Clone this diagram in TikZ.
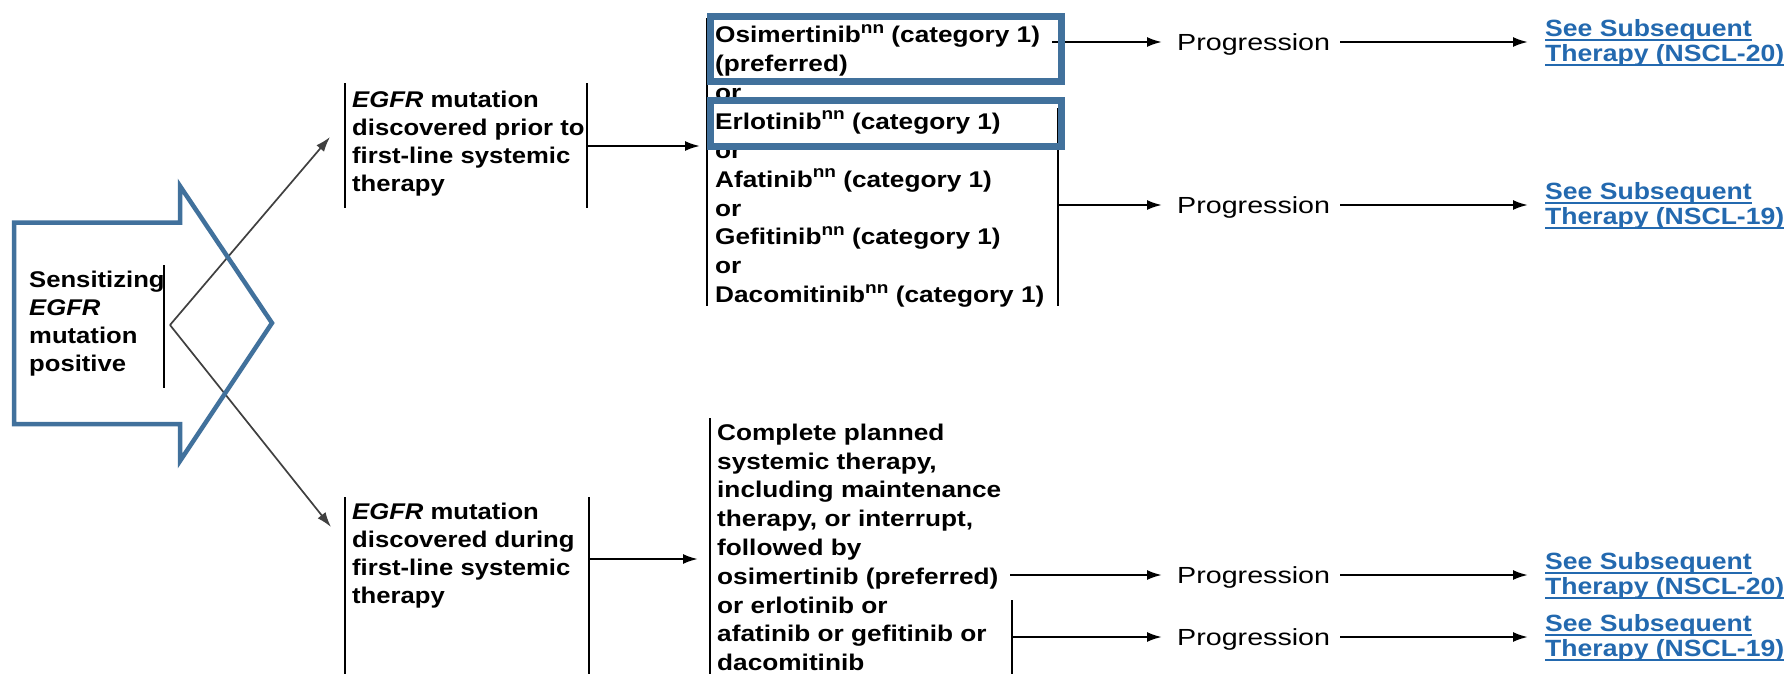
\documentclass[tikz,border=0pt]{standalone}
\usepackage{fontspec}
\usetikzlibrary{arrows.meta}
\newfontfamily\mf[FakeStretch=1.13]{Liberation Sans}
\newfontfamily\mg[FakeStretch=1.155]{Liberation Sans}
\newfontfamily\pf[FakeStretch=1.23]{Liberation Sans}
\definecolor{ppblue}{HTML}{41719C}
\definecolor{lnkblue}{RGB}{35,105,175}
\newcommand\tl{\rule{0pt}{18pt}}
\newcommand\sups[1]{\raisebox{0.42em}{\fontsize{16.5}{16.5}\selectfont #1}}
\newcommand\undl[1]{\setbox0=\hbox{#1}\rlap{\copy0}\rule[-5pt]{\wd0}{2pt}}
\begin{document}
\begin{tikzpicture}[x=1pt,y=-1pt,
  txt/.style={font=\mf\bfseries\fontsize{22.7}{28.9}\selectfont, align=left, inner sep=0pt, anchor=north west},
  prog/.style={font=\pf\fontsize{23.3}{28}\selectfont, inner sep=0pt, text height=16.7pt, text depth=0pt, anchor=west},
  lnk/.style={font=\mf\bfseries\fontsize{23.5}{25}\selectfont, text=lnkblue, align=left, inner sep=0pt, anchor=west},
  arr/.style={-{Latex[length=15pt,width=10pt]}, line width=2.2pt},
  barline/.style={line width=2.4pt},
  diag/.style={-{Latex[length=15pt,width=10pt]}, line width=1.7pt, draw=black!75},
  hl/.style={draw=ppblue, line width=7pt}]
\fill[white] (0,0) rectangle (1788,673);
\useasboundingbox (0,0) rectangle (1788,673);

% diagonal connectors
\coordinate (apex) at (170,325);
\coordinate (t1) at (330,137);
\coordinate (t2) at (331,527);
\draw[diag] (apex) -- (t1);
\draw[diag] (apex) -- (t2);

% left text
\node[txt, font=\mf\bfseries\fontsize{22.7}{28}\selectfont] (s) at (29,269) {\tl Sensitizing\\\textit{EGFR}\\mutation\\positive};
\draw[barline] (164,265) -- (164,388);

% top EGFR box
\node[txt, font=\mf\bfseries\fontsize{22.7}{28}\selectfont] (e1) at (352,89) {\tl\textit{EGFR} mutation\\discovered prior to\\first-line systemic\\therapy};
\draw[barline] (345,83) -- (345,208);
\draw[barline] (587,83) -- (587,208);
\coordinate (e1o) at (587,146);
\coordinate (d1i) at (700,146);
\draw[arr] (e1o) -- (d1i);

% top drug box
\node[txt, font=\mg\bfseries\fontsize{22.7}{28.9}\selectfont] (d1) at (715,24) {\tl Osimertinib\sups{nn} (category 1)\\(preferred)\\or\\Erlotinib\sups{nn} (category 1)\\or\\Afatinib\sups{nn} (category 1)\\or\\Gefitinib\sups{nn} (category 1)\\or\\Dacomitinib\sups{nn} (category 1)};
\draw[barline] (707,18) -- (707,306);
\draw[barline] (1058,108) -- (1058,306);
\coordinate (d1a) at (1052,42);
\coordinate (d1b) at (1058,205);

\node[prog] (p1) at (1177,42) {Progression};
\node[prog] (p2) at (1177,205) {Progression};
\node[lnk] (l1) at (1545,42) {\tl\undl{See Subsequent}\\\undl{Therapy (NSCL-20)}};
\node[lnk] (l2) at (1545,205) {\tl\undl{See Subsequent}\\\undl{Therapy (NSCL-19)}};
\draw[arr, shorten >=15pt] (d1a) -- (p1.west);
\draw[arr, shorten >=15pt] (d1b) -- (p2.west);
\draw[arr, shorten <=10pt, shorten >=17pt] (p1.east) -- (l1.west);
\draw[arr, shorten <=10pt, shorten >=17pt] (p2.east) -- (l2.west);

% bottom EGFR box
\node[txt, font=\mf\bfseries\fontsize{22.7}{28}\selectfont] (e2) at (352,501) {\tl\textit{EGFR} mutation\\discovered during\\first-line systemic\\therapy};
\draw[barline] (345,497) -- (345,680);
\draw[barline] (589,497) -- (589,680);
\coordinate (e2o) at (589,559);
\coordinate (d2i) at (698,559);
\draw[arr] (e2o) -- (d2i);

% bottom drug text
\node[txt, font=\mg\bfseries\fontsize{22.7}{28.8}\selectfont] (d2) at (717,422) {\tl Complete planned\\systemic therapy,\\including maintenance\\therapy, or interrupt,\\followed by\\osimertinib (preferred)\\or erlotinib or\\afatinib or gefitinib or\\dacomitinib};
\draw[barline] (710,418) -- (710,680);
\draw[barline] (1012,600) -- (1012,680);
\coordinate (d2a) at (1010,575);
\coordinate (d2b) at (1012,637);

\node[prog] (p3) at (1177,575) {Progression};
\node[prog] (p4) at (1177,637) {Progression};
\node[lnk] (l3) at (1545,575) {\tl\undl{See Subsequent}\\\undl{Therapy (NSCL-20)}};
\node[lnk] (l4) at (1545,637) {\tl\undl{See Subsequent}\\\undl{Therapy (NSCL-19)}};
\draw[arr, shorten >=15pt] (d2a) -- (p3.west);
\draw[arr, shorten >=15pt] (d2b) -- (p4.west);
\draw[arr, shorten <=10pt, shorten >=17pt] (p3.east) -- (l3.west);
\draw[arr, shorten <=10pt, shorten >=17pt] (p4.east) -- (l4.west);

% big block arrow outline
\draw[ppblue, line width=4.5pt] (14,222.5) -- (180,222.5) -- (180,186) -- (272,323) -- (180,461) -- (180,424) -- (14,424) -- cycle;

% highlight boxes
\draw[hl] (710.5,16.5) rectangle (1061.5,81.5);
\draw[hl] (710.5,100.5) rectangle (1061.5,146.5);
\end{tikzpicture}
\end{document}
